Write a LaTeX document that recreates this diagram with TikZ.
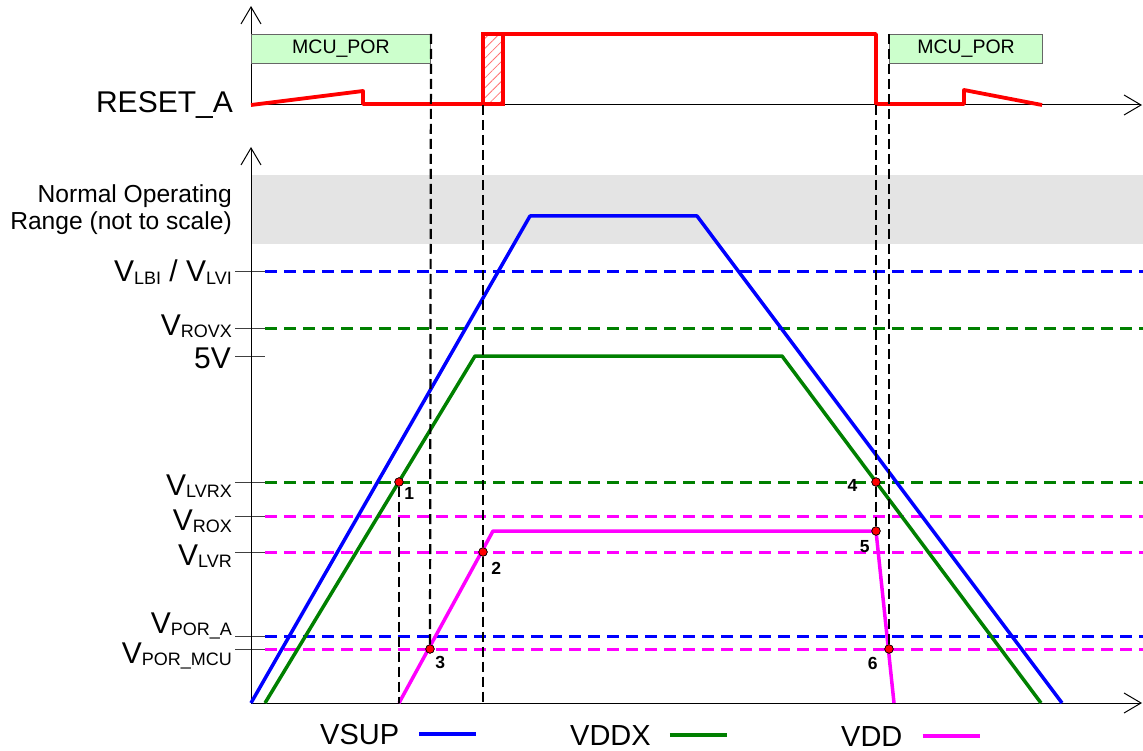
\documentclass[tikz,border=0pt]{standalone}
\usepackage{fontspec}
\setmainfont{Liberation Sans}
\usetikzlibrary{arrows.meta,positioning,patterns.meta}

\definecolor{vsup}{RGB}{0,0,255}
\definecolor{vddx}{RGB}{0,128,0}
\definecolor{vdd}{RGB}{255,0,255}
\definecolor{band}{RGB}{228,228,228}
\definecolor{porfill}{RGB}{204,255,204}

\newcommand{\vlvl}[1]{V\raisebox{-2.5pt}{\fontsize{18}{18}\selectfont #1}}

\begin{document}
\begin{tikzpicture}[x=1pt,y=-1pt,>={Straight Barb[length=17pt,width=20pt]},
  axis/.style={line width=1pt,->},
  sig/.style={line width=3.5pt,line join=round},
  lvl/.style={line width=3pt,dash pattern=on 12pt off 7pt},
  guide/.style={line width=2.2pt,dash pattern=on 10pt off 5pt},
  tck/.style={line width=1pt,black!75},
  pt/.style={circle,draw=black,fill=red,inner sep=0pt,minimum size=8.5pt,line width=0.6pt},
  num/.style={font=\fontsize{17.5}{18}\selectfont\bfseries,inner sep=0pt},
  lab/.style={font=\fontsize{30}{32}\selectfont,anchor=base east,inner sep=0pt},
  por/.style={draw=black!60,fill=porfill,line width=1pt,anchor=north west,
    font=\fontsize{19.5}{20}\selectfont,inner sep=0pt},
  leg/.style={font=\fontsize{29}{30}\selectfont,anchor=base west,inner sep=0pt}]

 \useasboundingbox (0,0) rectangle (1143,751);

 % normal operating range
 \fill[band] (251,175) rectangle (1143,244);
 \node[lab,font=\fontsize{24.6}{26}\selectfont] (nor1) at (232,203) {Normal Operating};
 \node[lab,font=\fontsize{24.6}{26}\selectfont] (nor2) at (232,230) {Range (not to scale)};

 % levels
 \foreach \y/\c in {272/vsup,328/vddx,482/vddx,516/vdd,552/vdd,636/vsup,649/vdd}{
   \draw[tck] (235,\y) -- (265,\y);
   \draw[lvl,\c] (265,\y) -- (1143,\y);
 }
 \draw[tck] (235,356) -- (265,356);
 \node[lab] (lbi)  at (232,282) {\vlvl{LBI} / \vlvl{LVI}};
 \node[lab] (rovx) at (232,335) {\vlvl{ROVX}};
 \node[lab] (five) at (231,368) {5V};
 \node[lab] (lvrx) at (232,495) {\vlvl{LVRX}};
 \node[lab] (rox)  at (232,530) {\vlvl{ROX}};
 \node[lab] (lvr)  at (232,565) {\vlvl{LVR}};
 \node[lab] (pora) at (232,633) {\vlvl{POR\_A}};
 \node[lab] (porm) at (232,663) {\vlvl{POR\_MCU}};

 % axes
 \draw[axis] (251,105) -- (251,6);
 \draw[axis] (251,105) -- (1142,105);
 \draw[axis] (251,703) -- (251,147);
 \draw[axis] (251,703) -- (1142,703);
 \node[lab] (rst) at (233,113) {RESET\_A};

 % MCU_POR windows
 \node[por,minimum width=179pt,minimum height=29pt] (por1) at (251,34) {MCU\_POR};
 \node[por,minimum width=153pt,minimum height=29pt] (por2) at (889,34) {MCU\_POR};

 % RESET_A
 \draw[sig,red,line width=3.8pt] (251,105) -- (363,91) -- (363,104) -- (483,104) -- (483,34)
   -- (876,34) -- (876,104) -- (964,104) -- (964,90) -- (1042,105);
 \draw[red,line width=3.5pt,pattern={Lines[angle=45,distance=7pt,line width=0.8pt]},
   pattern color=red!55] (483,34) rectangle (503,104);

 % supplies
 \draw[sig,vsup] (251,703) -- (530,216) -- (697,216) -- (1062,703);
 \draw[sig,vddx] (265,703) -- (475,356) -- (782,356) -- (1041,703);
 \draw[sig,vdd]  (399,703) -- (493,531) -- (876,531) -- (894,703);

 % events
 \node[pt] (p1) at (399,482) {};
 \node[pt] (p2) at (483,552) {};
 \node[pt] (p3) at (430,649) {};
 \node[pt] (p4) at (876,482) {};
 \node[pt] (p5) at (876,531) {};
 \node[pt] (p6) at (889,649) {};

 \draw[guide] (p1) -- (399,703);
 \draw[guide] (483,105) -- (p2) -- (483,703);
 \draw[guide] (por1.north east) -- (p3);
 \draw[guide] (876,105) -- (p4) -- (p5);
 \draw[guide] (por2.north west) -- (p6);
 \foreach \p in {p1,p2,p3,p4,p5,p6}
   \node[pt] at (\p) {};

 \node[num,below right=2pt and 2pt of p1] {1};
 \node[num,below right=7pt and 5pt of p2] {2};
 \node[num,below right=4pt and 2pt of p3] {3};
 \node[num,left=14pt of p4,yshift=-3pt] {4};
 \node[num,below left=6pt and 3pt of p5] {5};
 \node[num,below left=5pt and 8pt of p6] {6};

 % legend
 \node[leg] (lsup) at (320,744) {VSUP};
 \node[leg] (lddx) at (570,745) {VDDX};
 \node[leg] (ldd)  at (841,746) {VDD};
 \draw[sig,vsup] ([xshift=20pt]lsup.east) -- +(57,0);
 \draw[sig,vddx] ([xshift=19pt]lddx.east) -- +(57,0);
 \draw[sig,vdd]  ([xshift=20pt]ldd.east) -- +(57,0);
\end{tikzpicture}
\end{document}
